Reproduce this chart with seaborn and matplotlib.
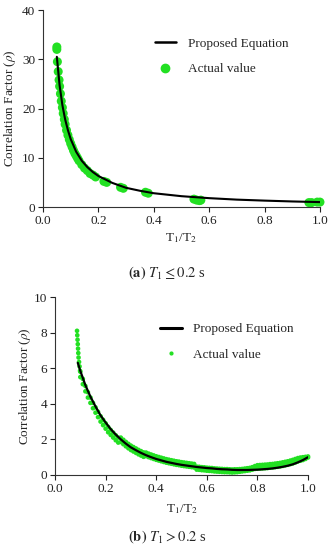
import matplotlib
matplotlib.use("Agg")
import matplotlib.pyplot as plt
import seaborn as sns
import pandas as pd
from matplotlib.lines import Line2D

# ---- panel (a): T1 <= 0.2 s ----
eq_a_x = [0.05, 0.06, 0.07, 0.08, 0.09, 0.10, 0.12, 0.14, 0.16, 0.18, 0.20,
          0.25, 0.30, 0.35, 0.40, 0.50, 0.60, 0.70, 0.80, 0.90, 1.00]
eq_a_y = [30.5, 24.7, 20.7, 17.8, 15.6, 13.8, 11.2, 9.4, 8.1, 7.1, 6.3,
          4.9, 3.9, 3.3, 2.8, 2.2, 1.8, 1.5, 1.3, 1.13, 1.0]

act_a_x = [0.050, 0.050, 0.052, 0.055, 0.058, 0.060, 0.063, 0.066, 0.070, 0.073,
           0.077, 0.080, 0.085, 0.090, 0.095, 0.100, 0.105, 0.110, 0.115, 0.120,
           0.125, 0.130, 0.140, 0.150, 0.160, 0.170, 0.180, 0.190, 0.220, 0.230,
           0.280, 0.290, 0.370, 0.380, 0.545, 0.555, 0.565, 0.570, 0.960, 0.970,
           0.990, 1.000]
act_a_y = [32.5, 32.0, 29.5, 27.5, 25.8, 24.5, 23.0, 21.5, 20.2, 19.0,
           17.8, 16.8, 15.6, 14.6, 13.7, 12.9, 12.2, 11.5, 10.9, 10.4,
           9.9, 9.4, 8.6, 7.9, 7.4, 6.8, 6.5, 6.1, 5.2, 5.0,
           4.0, 3.8, 3.0, 2.8, 1.6, 1.4, 1.3, 1.4, 0.9, 0.9,
           1.0, 1.0]

# ---- panel (b): T1 > 0.2 s ----
eq_b_x = [0.09, 0.10, 0.12, 0.14, 0.16, 0.18, 0.20, 0.22, 0.24, 0.26, 0.28,
          0.30, 0.32, 0.34, 0.36, 0.38, 0.40, 0.42, 0.44, 0.46, 0.48, 0.50,
          0.52, 0.54, 0.56, 0.58, 0.60, 0.62, 0.64, 0.66, 0.68, 0.70, 0.72,
          0.74, 0.76, 0.78, 0.80, 0.82, 0.84, 0.86, 0.88, 0.90, 0.92, 0.94,
          0.96, 0.98, 1.00]
eq_b_y = [6.3, 5.85, 5.05, 4.4, 3.85, 3.35, 2.95, 2.58, 2.27, 2.0, 1.76,
          1.55, 1.39, 1.24, 1.11, 1.0, 0.9, 0.82, 0.74, 0.68, 0.62, 0.57,
          0.53, 0.49, 0.45, 0.42, 0.39, 0.37, 0.34, 0.32, 0.31, 0.29, 0.28,
          0.28, 0.28, 0.29, 0.30, 0.32, 0.34, 0.37, 0.41, 0.46, 0.52, 0.60,
          0.71, 0.84, 1.0]

# steep column of points at the far left
col_b_x = [0.087, 0.088, 0.089, 0.090, 0.091, 0.092, 0.093, 0.095, 0.097, 0.099]
col_b_y = [8.1, 7.85, 7.6, 7.35, 7.1, 6.85, 6.6, 6.35, 6.1, 5.85]

# main band of actual values: lower and upper edge
band_x = [round(0.10 + 0.01 * i, 2) for i in range(91)]
band_lo = [5.5, 5.1, 4.7, 4.35, 4.05, 3.75, 3.5, 3.25, 3.0, 2.8,
           2.6, 2.4, 2.25, 2.1, 1.95, 1.82, 1.85, 1.73, 1.61, 1.5,
           1.4, 1.32, 1.24, 1.16, 1.09, 1.02, 1.06, 1.0, 0.95, 0.9,
           0.85, 0.81, 0.77, 0.73, 0.69, 0.66, 0.63, 0.6, 0.57, 0.55,
           0.52, 0.5, 0.48, 0.46, 0.44, 0.42, 0.3, 0.29, 0.27, 0.26,
           0.24, 0.23, 0.22, 0.2, 0.19, 0.18, 0.17, 0.16, 0.16, 0.15,
           0.14, 0.15, 0.16, 0.18, 0.2, 0.22, 0.24, 0.26, 0.3, 0.34,
           0.35, 0.36, 0.37, 0.38, 0.39, 0.41, 0.42, 0.44, 0.46, 0.48,
           0.51, 0.54, 0.57, 0.61, 0.65, 0.7, 0.76, 0.8, 0.84, 0.9,
           0.98]
band_hi = [5.8, 5.4, 5.0, 4.65, 4.35, 4.05, 3.8, 3.55, 3.3, 3.1,
           2.9, 2.7, 2.53, 2.38, 2.23, 2.1, 2.1, 1.98, 1.86, 1.75,
           1.65, 1.57, 1.49, 1.41, 1.34, 1.27, 1.26, 1.2, 1.15, 1.1,
           1.05, 1.01, 0.97, 0.93, 0.89, 0.86, 0.83, 0.8, 0.77, 0.75,
           0.72, 0.7, 0.68, 0.66, 0.64, 0.62, 0.47, 0.46, 0.44, 0.43,
           0.41, 0.4, 0.39, 0.37, 0.36, 0.35, 0.34, 0.33, 0.33, 0.32,
           0.31, 0.32, 0.32, 0.33, 0.34, 0.36, 0.38, 0.4, 0.44, 0.5,
           0.55, 0.56, 0.57, 0.58, 0.59, 0.61, 0.62, 0.64, 0.66, 0.68,
           0.71, 0.74, 0.77, 0.81, 0.85, 0.9, 0.95, 0.98, 1.0, 1.02,
           1.04]

act_b_x = col_b_x + band_x + band_x
act_b_y = col_b_y + band_lo + band_hi

GREEN = "#22e022"

sns.set_style("ticks")
plt.rcParams["font.family"] = ["Liberation Serif", "DejaVu Serif"]
plt.rcParams["mathtext.fontset"] = "stix"

fig = plt.figure(figsize=(3.34, 5.5), dpi=100)
ax1 = fig.add_axes([0.1287, 0.6236, 0.8293, 0.3582])
ax2 = fig.add_axes([0.1647, 0.1364, 0.7575, 0.3236])

sns.scatterplot(x=act_a_x, y=act_a_y, ax=ax1, color=GREEN, s=42,
                edgecolor="none", clip_on=False, zorder=2)
sns.lineplot(x=eq_a_x, y=eq_a_y, ax=ax1, color="black", lw=1.5, zorder=3)

sns.scatterplot(x=act_b_x, y=act_b_y, ax=ax2, color=GREEN, s=11,
                edgecolor="none", clip_on=False, zorder=2)
sns.lineplot(x=eq_b_x, y=eq_b_y, ax=ax2, color="black", lw=1.6, zorder=3)

for ax, ymax, yt in [(ax1, 40, [0, 10, 20, 30, 40]), (ax2, 10, [0, 2, 4, 6, 8, 10])]:
    ax.set_xlim(0, 1)
    ax.set_ylim(0, ymax)
    ax.set_xticks([0, 0.2, 0.4, 0.6, 0.8, 1.0])
    ax.set_xticklabels(["0.0", "0.2", "0.4", "0.6", "0.8", "1.0"])
    ax.set_yticks(yt)
    ax.tick_params(labelsize=9.5, length=3.5, width=0.8, pad=2, colors="#222222")
    for sp in ["left", "bottom"]:
        ax.spines[sp].set_linewidth(0.8)
        ax.spines[sp].set_color("#333333")
    sns.despine(ax=ax)
    ax.set_xlabel(r"T$_1$/T$_2$", fontsize=9.5)
    ax.set_ylabel(r"Correlation Factor ($\rho$)", fontsize=9.5)

ax1.xaxis.set_label_coords(0.5, -0.125)
ax1.yaxis.set_label_coords(-0.09, 0.5)
ax2.xaxis.set_label_coords(0.5, -0.155)
ax2.yaxis.set_label_coords(-0.087, 0.5)

h_a = [Line2D([], [], color="black", lw=1.8),
       Line2D([], [], ls="none", marker="o", color=GREEN, markersize=6)]
ax1.legend(h_a, ["Proposed Equation", "Actual value"], loc="upper left",
           bbox_to_anchor=(0.36, 0.92), frameon=False, fontsize=9.5,
           handlelength=1.6, labelspacing=1.0, handletextpad=0.9)

h_b = [Line2D([], [], color="black", lw=2.2),
       Line2D([], [], ls="none", marker="o", color=GREEN, markersize=2)]
ax2.legend(h_b, ["Proposed Equation", "Actual value"], loc="upper left",
           bbox_to_anchor=(0.37, 0.92), frameon=False, fontsize=9.5,
           handlelength=1.6, labelspacing=1.0, handletextpad=0.9)

fig.text(0.5, 1 - 273 / 550, r"$\mathbf{(a)}$ $T_{\rm 1} \leq 0.2$ s",
         ha="center", va="center", fontsize=10.5)
fig.text(0.5, 1 - 537 / 550, r"$\mathbf{(b)}$ $T_{\rm 1} > 0.2$ s",
         ha="center", va="center", fontsize=10.5)

fig.savefig("out.png", dpi=100)
